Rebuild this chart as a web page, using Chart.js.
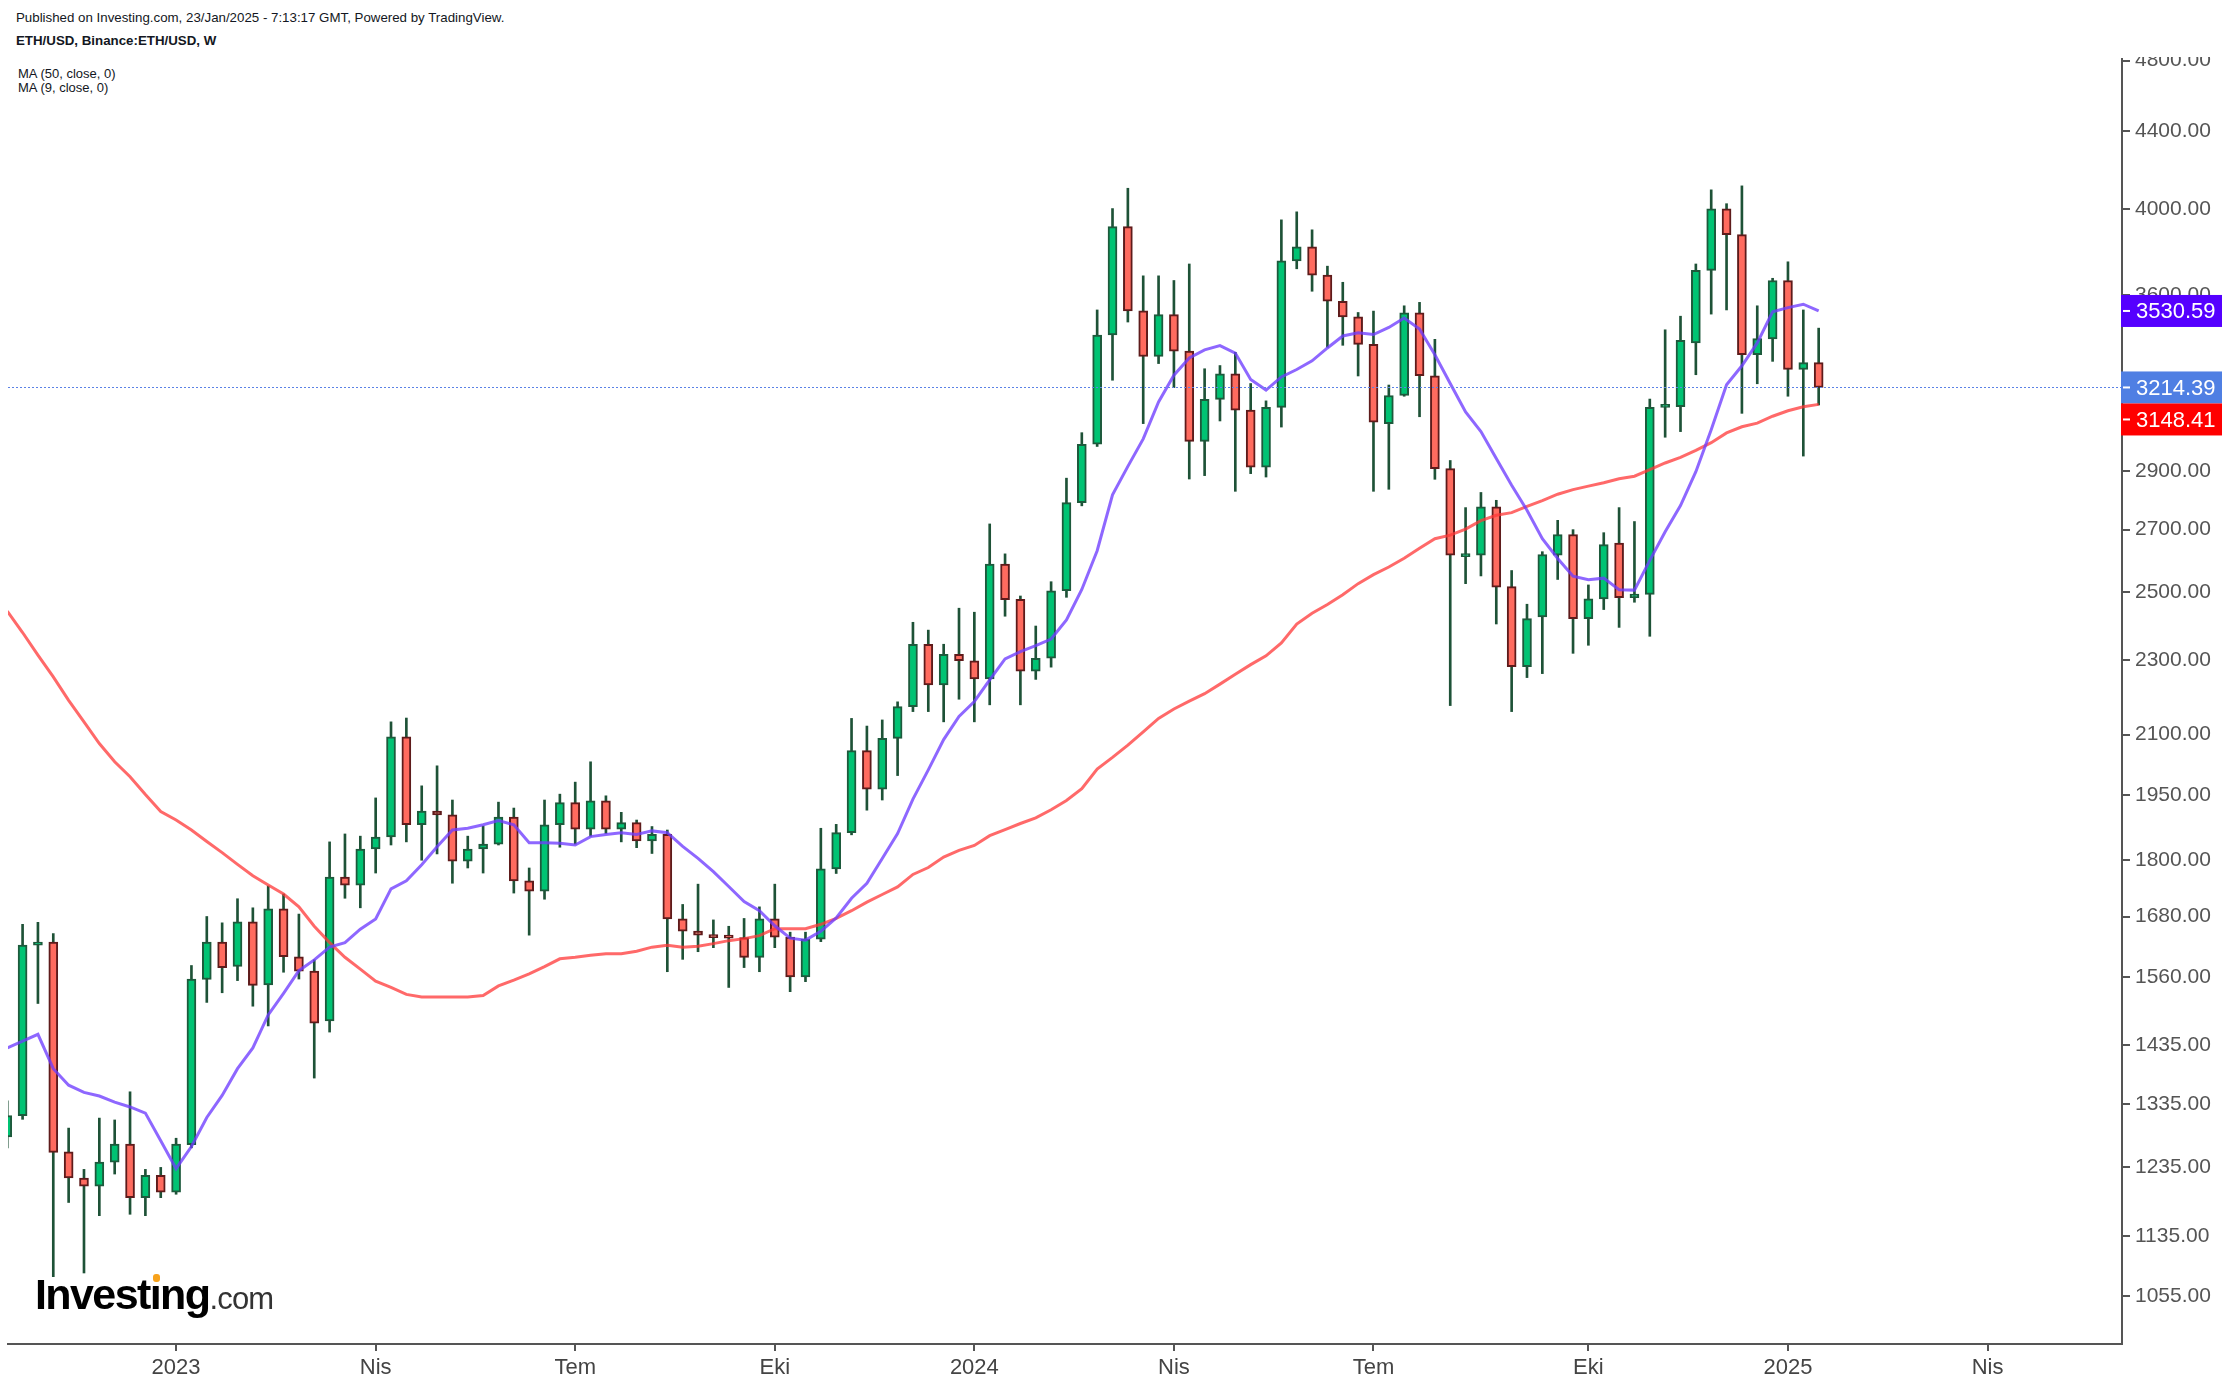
<!DOCTYPE html>
<html>
<head>
<meta charset="utf-8">
<title>ETH/USD</title>
<script src="https://cdn.jsdelivr.net/npm/chart.js@4.4.1/dist/chart.umd.min.js"></script>
<style>
  html, body { margin: 0; padding: 0; background: #fff; width: 2230px; height: 1386px; overflow: hidden; }
  body { font-family: "Liberation Sans", Arial, sans-serif; color: #131722; position: relative; }
  #wrap { position: absolute; left: 0; top: 57px; width: 2230px; height: 1329px; }
  .txt { position: absolute; white-space: nowrap; }
  #pub { left: 16px; top: 10px; font-size: 13.3px; }
  #sym { left: 16px; top: 33px; font-size: 13.3px; font-weight: bold; }
  #ma50 { left: 18px; top: 66px; font-size: 13px; line-height: 15px; }
  #ma9 { left: 18px; top: 80px; font-size: 13px; line-height: 15px; }
  #logo { position: absolute; left: 35px; top: 1273px; z-index: 5; white-space: nowrap; line-height: 43px; }
  #logo .inv { font-size: 43px; font-weight: bold; color: #000; letter-spacing: -1.6px; }
  #logo .com { font-size: 31px; color: #333; letter-spacing: -0.8px; }
  #logo .dot { position: relative; }
  #logo .dot::after { content: ""; position: absolute; left: 3px; top: 4px; width: 7px; height: 8px; border-radius: 3px; background: #f7a21b; }
</style>
</head>
<body>
<div class="txt" id="pub">Published on Investing.com, 23/Jan/2025 - 7:13:17 GMT, Powered by TradingView.</div>
<div class="txt" id="sym">ETH/USD, Binance:ETH/USD, W</div>
<div class="txt" id="ma50">MA (50, close, 0)</div>
<div class="txt" id="ma9">MA (9, close, 0)</div>
<div id="wrap"><canvas id="chart"></canvas></div>
<div id="logo"><span class="inv">Invest<span class="dot">ı</span>ng</span><span class="com">.com</span></div>

<script>
// weekly candles, week start dates
const weeks = [
  '2022-10-17','2022-10-24','2022-10-31','2022-11-07','2022-11-14','2022-11-21','2022-11-28','2022-12-05','2022-12-12','2022-12-19','2022-12-26',
  '2023-01-02','2023-01-09','2023-01-16','2023-01-23','2023-01-30','2023-02-06','2023-02-13','2023-02-20','2023-02-27','2023-03-06',
  '2023-03-13','2023-03-20','2023-03-27','2023-04-03','2023-04-10','2023-04-17','2023-04-24','2023-05-01','2023-05-08','2023-05-15',
  '2023-05-22','2023-05-29','2023-06-05','2023-06-12','2023-06-19','2023-06-26','2023-07-03','2023-07-10','2023-07-17','2023-07-24',
  '2023-07-31','2023-08-07','2023-08-14','2023-08-21','2023-08-28','2023-09-04','2023-09-11','2023-09-18','2023-09-25','2023-10-02',
  '2023-10-09','2023-10-16','2023-10-23','2023-10-30','2023-11-06','2023-11-13','2023-11-20','2023-11-27','2023-12-04','2023-12-11',
  '2023-12-18','2023-12-25','2024-01-01','2024-01-08','2024-01-15','2024-01-22','2024-01-29','2024-02-05','2024-02-12','2024-02-19',
  '2024-02-26','2024-03-04','2024-03-11','2024-03-18','2024-03-25','2024-04-01','2024-04-08','2024-04-15','2024-04-22','2024-04-29',
  '2024-05-06','2024-05-13','2024-05-20','2024-05-27','2024-06-03','2024-06-10','2024-06-17','2024-06-24','2024-07-01','2024-07-08',
  '2024-07-15','2024-07-22','2024-07-29','2024-08-05','2024-08-12','2024-08-19','2024-08-26','2024-09-02','2024-09-09','2024-09-16',
  '2024-09-23','2024-09-30','2024-10-07','2024-10-14','2024-10-21','2024-10-28','2024-11-04','2024-11-11','2024-11-18','2024-11-25',
  '2024-12-02','2024-12-09','2024-12-16','2024-12-23','2024-12-30','2025-01-06','2025-01-13','2025-01-20'
];

const opens = [
  1282,1316,1622,1628,1259,1219,1207,1243,1271,1190,1223,
  1198,1270,1555,1628,1580,1669,1545,1696,1599,1571,
  1478,1763,1746,1825,1852,2094,1880,1912,1903,1798,
  1825,1836,1898,1755,1733,1880,1932,1870,1936,1870,
  1885,1843,1858,1675,1650,1642,1638,1637,1598,1675,
  1638,1560,1634,1781,1862,2059,1964,2090,2173,2346,
  2232,2317,2299,2248,2588,2479,2270,2306,2505,2791,
  2998,3428,3915,3531,3339,3515,3361,3009,3168,3269,
  3126,2915,3137,3754,3820,3690,3573,3505,3389,3075,
  3183,3523,3261,2910,2612,2617,2777,2518,2282,2426,
  2617,2684,2421,2480,2656,2484,2494,3137,3140,3395,
  3711,4002,3877,3346,3412,3665,3286,3314
];
const highs = [
  1340,1664,1668,1645,1296,1232,1312,1309,1355,1232,1235,
  1280,1582,1680,1667,1717,1698,1744,1727,1685,1593,
  1841,1859,1854,1943,2133,2143,1972,2021,1938,1854,
  1877,1933,1919,1783,1938,1952,1981,2031,1948,1909,
  1891,1876,1868,1705,1748,1673,1660,1676,1700,1748,
  1648,1648,1872,1881,2142,2122,2138,2186,2410,2387,
  2346,2452,2440,2719,2621,2489,2399,2533,2876,3041,
  3535,4003,4104,3686,3686,3665,3740,3289,3302,3356,
  3230,3162,3948,3987,3900,3730,3657,3524,3530,3224,
  3553,3568,3410,2939,2774,2826,2799,2568,2464,2628,
  2731,2700,2523,2690,2774,2727,3169,3450,3508,3740,
  4096,4027,4116,3553,3675,3750,3535,3457
];
const lows = [
  1265,1310,1510,1080,1183,1085,1164,1225,1166,1164,1190,
  1195,1265,1512,1530,1553,1505,1469,1569,1556,1378,
  1458,1718,1698,1772,1834,1841,1800,1814,1750,1783,
  1772,1834,1729,1642,1716,1829,1836,1854,1860,1841,
  1828,1815,1570,1594,1609,1617,1540,1578,1570,1617,
  1532,1551,1629,1771,1857,1914,1938,1997,2160,2160,
  2133,2193,2133,2178,2428,2178,2247,2281,2485,2780,
  2990,3243,3483,3075,3310,3214,2873,2885,3085,2830,
  2892,2880,3062,3718,3617,3377,3385,3260,2830,2837,
  3180,3101,2872,2176,2527,2551,2405,2160,2252,2263,
  2540,2320,2343,2448,2395,2470,2369,3024,3045,3265,
  3517,3535,3114,3229,3319,3180,2955,3146
];
const closes = [
  1316,1622,1628,1258,1219,1207,1243,1271,1190,1223,1198,
  1271,1556,1628,1578,1669,1544,1696,1599,1571,1474,
  1763,1746,1825,1852,2094,1880,1912,1903,1798,1825,
  1836,1898,1755,1733,1880,1932,1870,1936,1870,1885,
  1843,1858,1675,1650,1642,1637,1636,1598,1675,1638,
  1560,1634,1781,1862,2059,1964,2090,2173,2346,2232,
  2317,2299,2248,2588,2478,2270,2306,2505,2791,2998,
  3428,3915,3531,3339,3515,3361,3009,3168,3269,3126,
  2915,3137,3754,3820,3689,3573,3505,3389,3080,3183,
  3523,3261,2910,2617,2617,2777,2516,2282,2421,2619,
  2684,2421,2480,2651,2484,2495,3137,3140,3406,3711,
  4002,3877,3346,3413,3665,3286,3314,3214.39
];

// moving averages
const ma50 = [
  2443,2380,2315,2254,2190,2133,2077,2031,1994,1951,1911,
  1891,1868,1842,1817,1791,1766,1746,1727,1700,1660,
  1627,1598,1575,1552,1540,1527,1522,1522,1522,1522,
  1525,1543,1554,1566,1580,1595,1598,1602,1605,1605,
  1610,1618,1622,1618,1620,1625,1631,1635,1641,1655,
  1655,1655,1664,1676,1692,1710,1726,1742,1769,1784,
  1807,1822,1833,1855,1869,1883,1896,1915,1937,1965,
  2013,2042,2073,2107,2142,2167,2188,2208,2234,2261,
  2288,2313,2350,2405,2437,2463,2493,2527,2555,2579,
  2607,2639,2670,2682,2702,2730,2748,2757,2778,2798,
  2820,2836,2848,2860,2874,2883,2906,2930,2950,2976,
  3004,3040,3063,3077,3103,3124,3139,3148.41
];
const ma9 = [
  1430,1442,1454,1394,1366,1354,1348,1338,1330,1320,1276,
  1233,1267,1313,1349,1394,1430,1489,1529,1572,1593,
  1618,1627,1654,1675,1738,1755,1790,1830,1868,1872,
  1880,1890,1880,1839,1839,1838,1834,1853,1858,1862,
  1858,1866,1862,1831,1804,1775,1743,1711,1692,1661,
  1636,1632,1650,1677,1718,1750,1804,1860,1940,2011,
  2087,2147,2187,2246,2304,2325,2342,2361,2417,2509,
  2631,2818,2918,3018,3158,3263,3333,3366,3384,3353,
  3246,3204,3256,3286,3321,3374,3424,3437,3430,3460,
  3500,3453,3346,3230,3119,3045,2946,2851,2765,2670,
  2606,2550,2539,2544,2508,2507,2600,2693,2781,2899,
  3052,3225,3301,3395,3527,3545,3560,3530.59
];

const yTicks = [1055,1135,1235,1335,1435,1560,1680,1800,1950,2100,2300,2500,2700,2900,3600,4000,4400,4800];
const tickDates = ['2023-01-02','2023-04-03','2023-07-03','2023-10-02','2024-01-01','2024-04-01','2024-07-01','2024-10-07','2025-01-06','2025-04-07'];
const tickLabels = ['2023','Nis','Tem','Eki','2024','Nis','Tem','Eki','2025','Nis'];

const DAY = 86400000;
const weekNo = function (d) { return (Date.parse(d) - Date.parse(weeks[0])) / (7 * DAY); };
const xs = weeks.map(weekNo);
const last = closes.length - 1;

const GREEN = '#00c373', GREEN_EDGE = '#1d5a3c';
const RED = '#ff6b5f', RED_EDGE = '#5e1b1b';
const WICK = '#1e5237';
const up = function (i) { return closes[i] >= opens[i]; };

Chart.defaults.font.family = '"Liberation Sans", Arial, sans-serif';

// dotted last-price line and the coloured price tags on the axis
const priceTags = {
  id: 'priceTags',
  afterDatasetsDraw(chart) {
    const ctx = chart.ctx, area = chart.chartArea, y = chart.scales.y;
    const py = Math.round(y.getPixelForValue(closes[last])) + 0.5;
    ctx.save();
    ctx.strokeStyle = '#5b82e6';
    ctx.lineWidth = 1;
    ctx.setLineDash([2, 2]);
    ctx.beginPath();
    ctx.moveTo(area.left, py);
    ctx.lineTo(area.right, py);
    ctx.stroke();
    ctx.restore();
  },
  afterDraw(chart) {
    const ctx = chart.ctx, area = chart.chartArea, y = chart.scales.y;
    const tags = [
      { v: ma9[last], c: '#5500ff' },
      { v: closes[last], c: '#4f7fe3' },
      { v: ma50[last], c: '#ff0000' }
    ];
    const h = 32;
    let prevBottom = -1e9;
    ctx.save();
    ctx.font = '22px "Liberation Sans", Arial, sans-serif';
    ctx.textBaseline = 'middle';
    tags.forEach(function (t) {
      let top = Math.max(y.getPixelForValue(t.v) - h / 2, prevBottom);
      prevBottom = top + h;
      ctx.fillStyle = t.c;
      ctx.fillRect(area.right - 1, top, 2223 - area.right, h);
      ctx.strokeStyle = '#fff';
      ctx.lineWidth = 2;
      ctx.beginPath();
      ctx.moveTo(area.right + 1, top + h / 2);
      ctx.lineTo(area.right + 8, top + h / 2);
      ctx.stroke();
      ctx.fillStyle = '#fff';
      ctx.fillText(t.v.toFixed(2), area.right + 14, top + h / 2 + 1);
    });
    ctx.restore();
  }
};

new Chart(document.getElementById('chart'), {
  type: 'bar',
  data: {
    datasets: [
      {
        type: 'line',
        label: 'MA 9',
        data: ma9.map(function (v, i) { return { x: xs[i], y: v }; }),
        borderColor: 'rgba(110, 60, 255, 0.78)',
        borderWidth: 3,
        pointRadius: 0,
        tension: 0,
        order: 1
      },
      {
        type: 'line',
        label: 'MA 50',
        data: ma50.map(function (v, i) { return { x: xs[i], y: v }; }),
        borderColor: 'rgba(255, 55, 55, 0.75)',
        borderWidth: 3,
        pointRadius: 0,
        tension: 0,
        order: 2
      },
      {
        label: 'body',
        data: closes.map(function (c, i) { return { x: xs[i], y: [opens[i], c] }; }),
        backgroundColor: function (ctx) { return up(ctx.dataIndex) ? GREEN : RED; },
        borderColor: function (ctx) { return up(ctx.dataIndex) ? GREEN_EDGE : RED_EDGE; },
        borderWidth: 2,
        borderSkipped: false,
        barThickness: 9,
        minBarLength: 3,
        grouped: false,
        order: 3
      },
      {
        label: 'wick',
        data: highs.map(function (hi, i) { return { x: xs[i], y: [lows[i], hi] }; }),
        backgroundColor: WICK,
        borderWidth: 0,
        barThickness: 2,
        grouped: false,
        order: 4
      }
    ]
  },
  options: {
    responsive: true,
    maintainAspectRatio: false,
    animation: false,
    layout: { padding: { left: 8, top: 2, right: 0, bottom: 0 } },
    plugins: { legend: { display: false }, tooltip: { enabled: false } },
    scales: {
      x: {
        type: 'linear',
        position: 'bottom',
        min: 0.05,
        max: 137.76,
        offset: false,
        bounds: 'data',
        grid: { drawOnChartArea: false, offset: false, color: '#555', lineWidth: 2, tickLength: 7 },
        border: { color: '#555', width: 2 },
        ticks: {
          autoSkip: false,
          maxRotation: 0,
          padding: 4,
          color: '#444',
          font: { size: 22 },
          callback: function (v, i) { return tickLabels[i]; }
        },
        afterBuildTicks: function (scale) {
          scale.ticks = tickDates.map(function (d) { return { value: weekNo(d) }; });
        },
        afterFit: function (scale) {
          scale.height = 42;
          scale.paddingLeft = 0;
          scale.paddingRight = 0;
        }
      },
      y: {
        type: 'logarithmic',
        position: 'right',
        min: 994.5,
        max: 4809,
        bounds: 'data',
        beginAtZero: false,
        grid: { drawOnChartArea: false, color: '#555', lineWidth: 2, tickLength: 8 },
        border: { color: '#555', width: 2 },
        ticks: {
          autoSkip: false,
          padding: 5,
          color: '#555',
          font: { size: 21 },
          callback: function (v) { return Number(v).toFixed(2); }
        },
        afterBuildTicks: function (scale) {
          scale.ticks = yTicks.map(function (v) { return { value: v }; });
        },
        afterFit: function (scale) {
          scale.width = 108;
          scale.paddingTop = 0;
          scale.paddingBottom = 0;
        }
      }
    }
  },
  plugins: [priceTags]
});
</script>
</body>
</html>
